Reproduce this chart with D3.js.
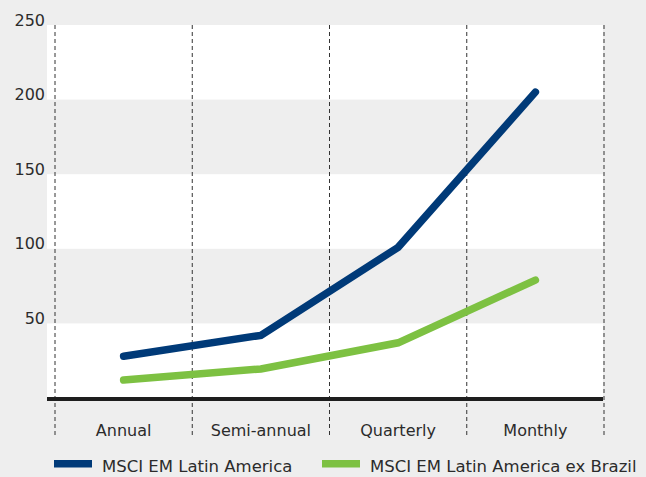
<!DOCTYPE html>
<html>
<head>
<meta charset="utf-8">
<script src="https://cdn.jsdelivr.net/npm/d3@7"></script>
<style>
  html, body { margin: 0; padding: 0; background: #eeeeee; }
  svg { display: block; }
  text { font-family: "DejaVu Sans", sans-serif; fill: #2b2b2b; }
</style>
</head>
<body>
<svg id="chart"></svg>
<script>
var categories = ["Annual", "Semi-annual", "Quarterly", "Monthly"];
var latam = [28, 42, 101, 205];        // MSCI EM Latin America
var latamExBrazil = [12, 19.5, 37, 79]; // MSCI EM Latin America ex Brazil
var yTicks = [50, 100, 150, 200, 250];
var seriesNames = ["MSCI EM Latin America", "MSCI EM Latin America ex Brazil"];
var seriesColors = ["#003a78", "#7dc142"];

var W = 646, H = 477;
var plotLeft = 47, plotRight = 603;

var svg = d3.select("#chart").attr("width", W).attr("height", H);

var x = d3.scaleBand()
  .domain(categories)
  .range([55, 604])
  .padding(0);

var y = d3.scaleLinear()
  .domain([0, 250])
  .range([398, 25]);

// white bands on every other 50 step
var bands = [0, 100, 200];
svg.selectAll("rect.band")
  .data(bands)
  .enter()
  .append("rect")
  .attr("class", "band")
  .attr("x", plotLeft)
  .attr("width", plotRight - plotLeft)
  .attr("y", function(d) { return y(d + 50); })
  .attr("height", function(d) { return y(d) - y(d + 50); })
  .attr("fill", "#ffffff");

// dashed category dividers
var dividers = categories.map(function(c) { return x(c); }).concat([x.range()[1]]);
svg.selectAll("line.div")
  .data(dividers)
  .enter()
  .append("line")
  .attr("class", "div")
  .attr("x1", function(d) { return d; })
  .attr("x2", function(d) { return d; })
  .attr("y1", y(250))
  .attr("y2", 435)
  .attr("stroke", "#333")
  .attr("stroke-width", 1)
  .attr("stroke-dasharray", "4,3");

// y tick labels
svg.selectAll("text.ytick")
  .data(yTicks)
  .enter()
  .append("text")
  .attr("class", "ytick")
  .attr("x", 45)
  .attr("y", function(d) { return y(d) + 0.5; })
  .attr("text-anchor", "end")
  .style("font-size", "16px")
  .text(function(d) { return d; });

// baseline axis
svg.append("line")
  .attr("x1", plotLeft)
  .attr("x2", plotRight)
  .attr("y1", y(0) + 1)
  .attr("y2", y(0) + 1)
  .attr("stroke", "#1e1e1e")
  .attr("stroke-width", 4);

// x labels
svg.selectAll("text.xlab")
  .data(categories)
  .enter()
  .append("text")
  .attr("class", "xlab")
  .attr("x", function(d) { return x(d) + x.bandwidth() / 2; })
  .attr("y", 436)
  .attr("text-anchor", "middle")
  .style("font-size", "16px")
  .text(function(d) { return d; });

// lines
var line = d3.line()
  .x(function(d, i) { return x(categories[i]) + x.bandwidth() / 2; })
  .y(function(d) { return y(d); });

[latamExBrazil, latam].forEach(function(vals, k) {
  svg.append("path")
    .attr("d", line(vals))
    .attr("fill", "none")
    .attr("stroke", seriesColors[1 - k])
    .attr("stroke-width", 7.5)
    .attr("stroke-linecap", "round")
    .attr("stroke-linejoin", "miter");
});

// legend
var legendX = [54, 322];
var lg = svg.selectAll("g.legend")
  .data(seriesNames)
  .enter()
  .append("g")
  .attr("class", "legend")
  .attr("transform", function(d, i) { return "translate(" + legendX[i] + ",0)"; });

lg.append("rect")
  .attr("x", 0)
  .attr("y", 460)
  .attr("width", 38)
  .attr("height", 7.5)
  .attr("fill", function(d, i) { return seriesColors[i]; });

lg.append("text")
  .attr("x", 48)
  .attr("y", 472)
  .style("font-size", "16.5px")
  .text(function(d) { return d; });
</script>
</body>
</html>
